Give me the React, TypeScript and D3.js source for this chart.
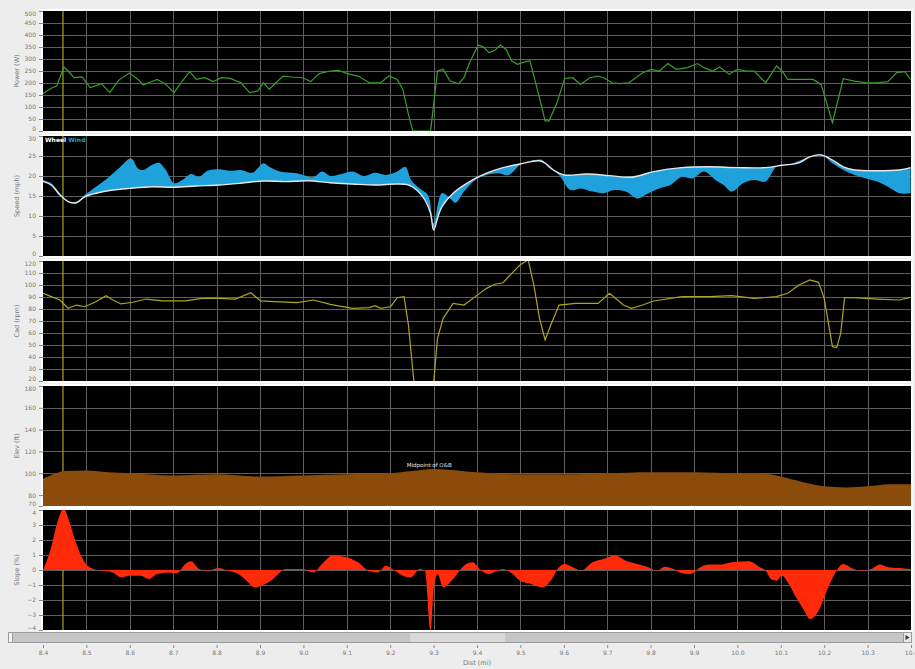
import { useEffect, useRef } from 'react';
import * as d3 from 'd3';

type Pt = [number, number];

// distance (mi) tick labels shared by every panel
const distTicks = [8.4, 8.5, 8.6, 8.7, 8.8, 8.9, 9.0, 9.1, 9.2, 9.3, 9.4, 9.5, 9.6, 9.7, 9.8, 9.9, 10.0, 10.1, 10.2, 10.3, 10.4];
const markerDist = 8.446;

const powerTicks = [0, 50, 100, 150, 200, 250, 300, 350, 400, 450, 500];
const speedTicks = [0, 5, 10, 15, 20, 25, 30];
const cadTicks = [20, 30, 40, 50, 60, 70, 80, 90, 100, 110, 120];
const elevTicks = [70, 80, 100, 120, 140, 160, 180];
const slopeTicks = [-4, -3, -2, -1, 0, 1, 2, 3, 4];

const power: Pt[] = [
  [8.4, 156], [8.419, 178], [8.432, 188], [8.448, 267], [8.458, 250], [8.471, 222], [8.49, 225], [8.509, 181],
  [8.535, 197], [8.554, 160], [8.574, 211], [8.599, 242], [8.619, 215], [8.631, 192], [8.651, 206], [8.663, 215],
  [8.683, 194], [8.702, 160], [8.721, 208], [8.738, 247], [8.753, 215], [8.773, 222], [8.792, 206], [8.811, 222],
  [8.831, 219], [8.856, 201], [8.876, 160], [8.895, 167], [8.908, 201], [8.921, 174], [8.933, 194], [8.953, 229],
  [8.972, 225], [8.998, 222], [9.017, 206], [9.036, 239], [9.062, 250], [9.081, 253], [9.101, 239], [9.126, 229],
  [9.152, 201], [9.178, 201], [9.197, 229], [9.216, 215], [9.229, 174], [9.242, 69], [9.252, 0], [9.293, 0],
  [9.309, 250], [9.322, 257], [9.338, 208], [9.358, 197], [9.37, 222], [9.383, 285], [9.403, 358], [9.415, 350],
  [9.428, 326], [9.441, 336], [9.454, 358], [9.467, 340], [9.48, 292], [9.493, 278], [9.512, 289], [9.522, 292],
  [9.538, 181], [9.557, 42], [9.566, 42], [9.583, 111], [9.602, 219], [9.621, 222], [9.638, 194], [9.66, 222],
  [9.679, 229], [9.692, 222], [9.711, 201], [9.73, 197], [9.75, 201], [9.782, 243], [9.801, 257], [9.82, 250],
  [9.84, 281], [9.859, 257], [9.885, 264], [9.908, 281], [9.923, 264], [9.943, 250], [9.959, 267], [9.981, 236],
  [10.0, 257], [10.02, 250], [10.039, 250], [10.065, 201], [10.09, 271], [10.103, 250], [10.116, 215], [10.142, 215],
  [10.174, 215], [10.193, 194], [10.219, 35], [10.244, 218], [10.27, 208], [10.296, 201], [10.322, 201], [10.347, 206],
  [10.367, 243], [10.386, 247], [10.399, 215],
];

const speedWheel: Pt[] = [
  [8.4, 18.6], [8.419, 17.75], [8.439, 15.25], [8.458, 13.6], [8.477, 13.3], [8.496, 14.8], [8.522, 15.7], [8.561, 16.5],
  [8.599, 16.9], [8.651, 17.3], [8.702, 17.2], [8.753, 17.5], [8.805, 17.75], [8.856, 18.2], [8.908, 18.75], [8.959, 18.6],
  [9.011, 18.8], [9.062, 18.3], [9.113, 18.0], [9.165, 17.75], [9.216, 18.0], [9.242, 17.75], [9.261, 16.5], [9.28, 14.0],
  [9.293, 10.7], [9.3, 6.5], [9.309, 9.4], [9.319, 12.3], [9.345, 15.7], [9.383, 18.6], [9.422, 20.7], [9.46, 22.1],
  [9.499, 23.0], [9.525, 23.6], [9.544, 23.8], [9.557, 23.2], [9.576, 21.5], [9.602, 20.25], [9.653, 20.5], [9.705, 20.1],
  [9.756, 19.7], [9.807, 21.1], [9.872, 22.1], [9.936, 22.3], [10.0, 22.1], [10.065, 22.1], [10.103, 22.7], [10.142, 23.3],
  [10.167, 24.8], [10.193, 25.25], [10.219, 24.0], [10.244, 22.3], [10.27, 21.5], [10.322, 21.3], [10.373, 21.5], [10.399, 22.1],
];

const speedWind: Pt[] = [
  [8.4, 19.0], [8.419, 18.2], [8.439, 15.7], [8.458, 13.6], [8.477, 13.6], [8.496, 15.25], [8.522, 17.3], [8.548, 19.4],
  [8.574, 21.9], [8.603, 24.4], [8.619, 21.9], [8.631, 21.5], [8.651, 22.75], [8.667, 23.3], [8.683, 21.5], [8.702, 18.2],
  [8.721, 19.0], [8.741, 20.5], [8.76, 19.8], [8.779, 21.3], [8.805, 21.7], [8.831, 21.3], [8.856, 21.5], [8.882, 20.8],
  [8.908, 23.2], [8.921, 22.3], [8.946, 21.1], [8.985, 20.7], [9.023, 19.7], [9.043, 21.1], [9.062, 20.0], [9.088, 20.5],
  [9.113, 21.1], [9.139, 20.0], [9.165, 20.8], [9.19, 20.25], [9.216, 21.1], [9.235, 22.3], [9.248, 19.0], [9.268, 16.9],
  [9.287, 15.25], [9.3, 8.2], [9.319, 15.7], [9.338, 14.4], [9.351, 13.3], [9.37, 16.1], [9.396, 19.0], [9.422, 20.25],
  [9.448, 20.7], [9.473, 20.25], [9.499, 22.75], [9.525, 23.8], [9.55, 24.0], [9.563, 22.3], [9.589, 20.25], [9.615, 16.5],
  [9.64, 16.9], [9.666, 16.1], [9.692, 15.7], [9.717, 16.5], [9.743, 16.1], [9.769, 14.4], [9.795, 15.7], [9.82, 16.9],
  [9.846, 17.75], [9.872, 19.8], [9.897, 19.4], [9.923, 21.1], [9.949, 19.0], [9.968, 17.75], [9.987, 16.1], [10.013, 18.2],
  [10.039, 19.0], [10.065, 18.6], [10.09, 22.3], [10.116, 22.75], [10.167, 24.8], [10.193, 25.4], [10.219, 23.2], [10.244, 21.5],
  [10.27, 20.25], [10.296, 19.4], [10.322, 18.6], [10.347, 17.3], [10.373, 15.7], [10.399, 15.7],
];

const cadence: Pt[] = [
  [8.4, 93.1], [8.419, 90.3], [8.439, 87.5], [8.458, 80.6], [8.477, 83.3], [8.496, 81.9], [8.522, 86.1], [8.545, 91.1],
  [8.561, 87.5], [8.58, 84.2], [8.606, 85.6], [8.638, 88.3], [8.676, 86.7], [8.728, 86.7], [8.766, 88.9], [8.805, 88.9],
  [8.843, 88.3], [8.879, 93.6], [8.901, 86.7], [8.933, 86.1], [8.985, 85.3], [9.023, 87.5], [9.062, 83.9], [9.113, 80.6],
  [9.152, 81.1], [9.165, 82.8], [9.178, 80.6], [9.201, 81.9], [9.216, 89.4], [9.232, 90.3], [9.242, 66.7], [9.255, 18],
  [9.3, 18], [9.309, 55.6], [9.322, 72.2], [9.345, 84.7], [9.37, 83.3], [9.396, 90.3], [9.422, 97.2], [9.441, 100.6],
  [9.46, 101.9], [9.48, 109.7], [9.499, 116.7], [9.518, 121], [9.531, 100], [9.544, 72.2], [9.557, 54.2], [9.57, 66.7],
  [9.589, 83.3], [9.627, 84.7], [9.679, 84.7], [9.705, 93.1], [9.724, 87.5], [9.737, 83.3], [9.756, 80.6], [9.782, 83.3],
  [9.807, 86.7], [9.872, 90.3], [9.936, 90.3], [9.987, 91.1], [10.039, 88.9], [10.09, 90.3], [10.116, 93.1], [10.142, 100],
  [10.167, 104.2], [10.187, 102.2], [10.2, 88.9], [10.219, 48.6], [10.229, 47.8], [10.238, 59.7], [10.247, 89.4], [10.27, 89.4],
  [10.322, 88.3], [10.373, 87.5], [10.399, 89.7],
];

const elevation: Pt[] = [
  [8.4, 95], [8.43, 100], [8.45, 102], [8.5, 102.5], [8.55, 101], [8.6, 100], [8.7, 98], [8.8, 99], [8.9, 97],
  [9.0, 98], [9.1, 99], [9.2, 100], [9.25, 102], [9.3, 104], [9.4, 101], [9.5, 99], [9.6, 99], [9.7, 100],
  [9.8, 101], [9.9, 101], [10.0, 100], [10.05, 100], [10.1, 97], [10.15, 92], [10.2, 88], [10.25, 87],
  [10.3, 88], [10.35, 90], [10.4, 90],
];

const slope: Pt[] = [
  [8.4, 0], [8.419, 1.51], [8.432, 3.07], [8.448, 4.1], [8.46, 3.29], [8.477, 1.73], [8.496, 0.51], [8.516, 0.07],
  [8.535, -0.04], [8.561, -0.16], [8.58, -0.49], [8.599, -0.38], [8.625, -0.38], [8.644, -0.6], [8.663, -0.27], [8.689, -0.16],
  [8.708, -0.22], [8.728, 0.4], [8.741, 0.58], [8.76, 0.07], [8.779, -0.04], [8.805, 0.13], [8.824, -0.04], [8.85, -0.27],
  [8.869, -0.71], [8.888, -1.16], [8.908, -0.98], [8.927, -0.67], [8.946, -0.16], [8.959, 0.07], [8.998, 0.07], [9.023, -0.16],
  [9.043, 0.4], [9.068, 0.96], [9.094, 0.89], [9.126, 0.51], [9.152, -0.09], [9.171, -0.16], [9.19, 0.29], [9.21, -0.04],
  [9.229, -0.38], [9.248, -0.49], [9.268, 0.07], [9.28, -0.04], [9.293, -4.1], [9.3, -1.38], [9.309, -0.27], [9.322, -1.16],
  [9.345, -0.6], [9.37, 0.29], [9.39, 0.51], [9.409, -0.04], [9.428, -0.27], [9.448, -0.04], [9.46, 0.07], [9.48, -0.22],
  [9.499, -0.71], [9.525, -0.93], [9.55, -1.16], [9.57, -0.71], [9.589, 0.18], [9.602, 0.4], [9.621, 0.18], [9.64, -0.04],
  [9.666, 0.51], [9.692, 0.73], [9.717, 0.96], [9.743, 0.62], [9.769, 0.4], [9.795, 0.18], [9.814, -0.04], [9.833, 0.22],
  [9.853, 0.07], [9.872, -0.22], [9.891, -0.27], [9.917, 0.22], [9.936, 0.36], [9.962, 0.36], [9.987, 0.51], [10.026, 0.58],
  [10.052, 0.18], [10.065, -0.04], [10.077, -0.6], [10.09, -0.71], [10.103, -0.38], [10.116, -0.82], [10.135, -1.82], [10.154, -2.71],
  [10.167, -3.27], [10.187, -2.71], [10.206, -1.38], [10.226, -0.16], [10.244, 0.4], [10.263, 0.13], [10.283, -0.04], [10.309, 0.07],
  [10.328, 0.36], [10.347, 0.18], [10.373, 0.13], [10.399, 0.07],
];

const W = 915;
const H = 669;
const FONT = '"DejaVu Sans", sans-serif';

export default function App() {
  const svgRef = useRef<SVGSVGElement>(null);

  useEffect(() => {
    if (!svgRef.current) return;
    const svg = d3.select(svgRef.current);
    svg.selectAll('*').remove();

    const left = 43;
    const right = 911;
    const x = d3.scaleLinear().domain([8.4, 10.4]).range([left, right]);

    svg.append('rect').attr('width', W).attr('height', H).attr('fill', '#ededed');

    const panels = [
      { title: 'Power (W)', domain: [0, 500], ticks: powerTicks, top: 11 },
      { title: 'Speed (mph)', domain: [0, 30], ticks: speedTicks, top: 136 },
      { title: 'Cad (rpm)', domain: [20, 120], ticks: cadTicks, top: 261 },
      { title: 'Elev (ft)', domain: [70, 180], ticks: elevTicks, top: 386 },
      { title: 'Slope (%)', domain: [-4, 4], ticks: slopeTicks, top: 510 },
    ];
    const ph = 120;

    const scales = panels.map((p, i) => {
      const y = d3.scaleLinear().domain(p.domain).range([p.top + ph, p.top]);
      svg.append('rect').attr('x', left - 1).attr('y', p.top - 1).attr('width', right - left + 2)
        .attr('height', ph + 2).attr('fill', 'none').attr('stroke', '#fdfdfd').attr('stroke-width', 2);
      svg.append('rect').attr('x', left).attr('y', p.top).attr('width', right - left)
        .attr('height', ph).attr('fill', '#000');
      svg.append('clipPath').attr('id', `clip-${i}`).append('rect')
        .attr('x', left).attr('y', p.top).attr('width', right - left).attr('height', ph);

      const grid = svg.append('g').attr('stroke', '#5e5e5e').attr('stroke-width', 1);
      p.ticks.filter((t) => t > p.domain[0] && t < p.domain[1]).forEach((t) => {
        grid.append('line').attr('x1', left).attr('x2', right)
          .attr('y1', Math.round(y(t)) + 0.5).attr('y2', Math.round(y(t)) + 0.5);
      });
      distTicks.slice(1, -1).forEach((d) => {
        grid.append('line').attr('x1', Math.round(x(d)) + 0.5).attr('x2', Math.round(x(d)) + 0.5)
          .attr('y1', p.top).attr('y2', p.top + ph);
      });

      // selected point marker
      svg.append('line').attr('x1', x(markerDist)).attr('x2', x(markerDist))
        .attr('y1', p.top).attr('y2', p.top + ph).attr('stroke', '#a9a524').attr('stroke-width', 1.2);

      const ax = svg.append('g').attr('transform', `translate(${left},0)`)
        .call(d3.axisLeft(y).tickValues(p.ticks).tickSize(4).tickPadding(3).tickFormat(d3.format('d')));
      ax.select('.domain').remove();
      ax.selectAll('line').attr('stroke', '#888');
      ax.selectAll<SVGTextElement, number>('text')
        .attr('fill', '#777').style('font-size', '6px').style('font-family', FONT)
        .attr('dy', (t) => (t === p.domain[0] ? '-0.05em' : t === p.domain[1] ? '0.75em' : '0.32em'));

      svg.append('text')
        .attr('transform', `translate(19,${p.top + ph / 2}) rotate(-90)`)
        .attr('text-anchor', 'middle')
        .style('font-size', '6.5px').style('font-family', FONT).attr('fill', '#777')
        .text(p.title);
      return y;
    });

    const layer = (i: number) => svg.append('g').attr('clip-path', `url(#clip-${i})`);

    // Power
    const yP = scales[0];
    layer(0).append('path').datum(power)
      .attr('fill', 'none').attr('stroke', '#3a9e2a').attr('stroke-width', 1.2)
      .attr('d', d3.line<Pt>().x((d) => x(d[0])).y((d) => yP(d[1])));

    // Speed: wind band between wheel and wind, wheel line on top
    const yS = scales[1];
    const sLine = d3.line<Pt>().x((d) => x(d[0])).y((d) => yS(d[1])).curve(d3.curveCatmullRom);
    const band = sLine(speedWind)! + sLine(speedWheel.slice().reverse())!.replace(/^M/, 'L') + 'Z';
    const gS = layer(1);
    gS.append('path').attr('d', band).attr('fill', '#1fa2dc');
    gS.append('path').attr('d', sLine(speedWheel)!).attr('fill', 'none')
      .attr('stroke', '#e6e6e6').attr('stroke-width', 1.4);
    const lg = svg.append('text').attr('x', left + 2).attr('y', 142)
      .style('font-size', '6px').style('font-family', FONT).style('font-weight', 'bold');
    lg.append('tspan').attr('fill', '#fff').text('Wheel ');
    lg.append('tspan').attr('fill', '#1fa2dc').text('Wind');

    // Cadence
    const yC = scales[2];
    layer(2).append('path').datum(cadence)
      .attr('fill', 'none').attr('stroke', '#a8a624').attr('stroke-width', 1.2)
      .attr('d', d3.line<Pt>().x((d) => x(d[0])).y((d) => yC(d[1])));

    // Elevation
    const yE = scales[3];
    layer(3).append('path').datum(elevation).attr('fill', '#8a4b0b')
      .attr('d', d3.area<Pt>().x((d) => x(d[0])).y0(yE(70)).y1((d) => yE(d[1])).curve(d3.curveMonotoneX));
    svg.append('text').attr('x', x(9.29)).attr('y', 467).attr('text-anchor', 'middle')
      .style('font-size', '5.5px').style('font-family', FONT).attr('fill', '#e8e8e8')
      .text('Midpoint of O&B');

    // Slope
    const ySl = scales[4];
    layer(4).append('path').datum(slope).attr('fill', '#ff2a0a')
      .attr('d', d3.area<Pt>().x((d) => x(d[0])).y0(ySl(0)).y1((d) => ySl(d[1])).curve(d3.curveMonotoneX));

    // Scrollbar
    const sb = svg.append('g');
    sb.append('rect').attr('x', 8.5).attr('y', 632.5).attr('width', 903).attr('height', 10)
      .attr('fill', '#c6c6c6').attr('stroke', '#9c9c9c');
    sb.append('rect').attr('x', 8.5).attr('y', 632.5).attr('width', 4).attr('height', 10)
      .attr('fill', '#f4f4f4').attr('stroke', '#9c9c9c');
    sb.append('rect').attr('x', x(9.246)).attr('y', 633).attr('width', x(9.465) - x(9.246)).attr('height', 9)
      .attr('fill', '#d9d9d9');
    sb.append('rect').attr('x', 903.5).attr('y', 632.5).attr('width', 8).attr('height', 10)
      .attr('fill', '#e8e8e8').attr('stroke', '#9c9c9c');
    sb.append('path').attr('d', 'M905.5,635 L909.5,637.5 L905.5,640 Z').attr('fill', '#333');

    // X axis
    const xa = svg.append('g').attr('transform', 'translate(0,645)')
      .call(d3.axisBottom(x).tickValues(distTicks).tickSize(3).tickPadding(3).tickFormat(d3.format('.1f')));
    xa.select('.domain').remove();
    xa.selectAll('line').attr('stroke', '#888');
    xa.selectAll('text').attr('fill', '#777').style('font-size', '6px').style('font-family', FONT);

    svg.append('text').attr('x', (left + right) / 2).attr('y', 665).attr('text-anchor', 'middle')
      .style('font-size', '6.5px').style('font-family', FONT).attr('fill', '#777').text('Dist (mi)');
  }, []);

  return (
    <div style={{ position: 'fixed', left: 0, top: 0 }}>
      <svg ref={svgRef} width={W} height={H} style={{ display: 'block' }} />
    </div>
  );
}
